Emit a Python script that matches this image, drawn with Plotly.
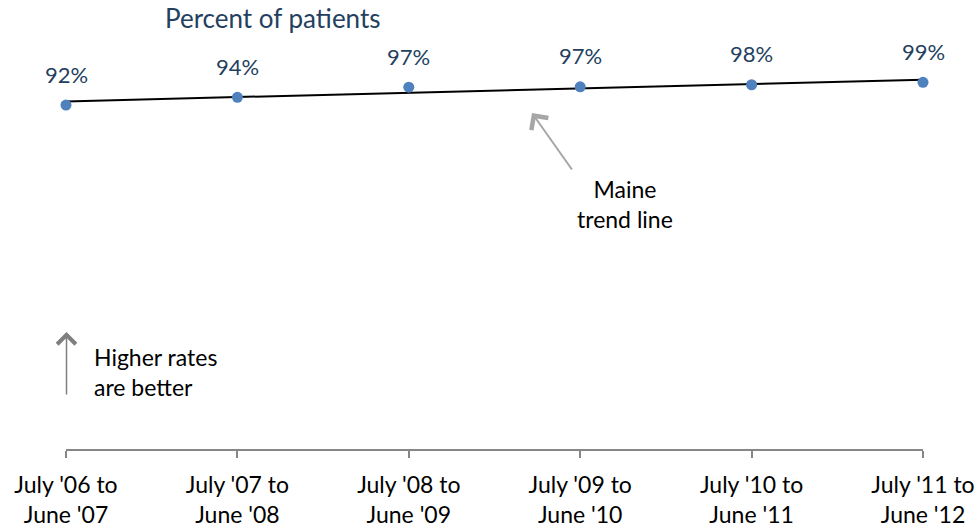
import numpy as np
import plotly.graph_objects as go

# ---- data ----
categories = ["July '06 to<br>June '07", "July '07 to<br>June '08", "July '08 to<br>June '09",
              "July '09 to<br>June '10", "July '10 to<br>June '11", "July '11 to<br>June '12"]
values = [92.1, 94.3, 97.2, 97.3, 97.9, 98.6]
title_text = "Percent of patients"

W, H = 979, 529
ML, MR, MT, MB = 66, 56, 40, 80
x_idx = list(range(len(categories)))

# linear trend line computed from the data
slope, intercept = np.polyfit(x_idx, values, 1)
trend = [slope * i + intercept for i in x_idx]

FONT = "Lato"
DARK_BLUE = "#243F60"

fig = go.Figure()
fig.add_trace(go.Scatter(x=x_idx, y=trend, mode="lines", cliponaxis=False,
                         line=dict(color="black", width=2), hoverinfo="skip"))
fig.add_trace(go.Scatter(x=x_idx, y=values, mode="markers", cliponaxis=False,
                         marker=dict(color="#4F81BD", size=11)))

# data labels
for i, v in zip(x_idx, values):
    fig.add_annotation(x=i, y=v, text=f"{v:.0f}%", showarrow=False, yshift=31,
                       xanchor="center", yanchor="middle",
                       font=dict(family=FONT, size=22, color=DARK_BLUE))

def px(xp):
    return (xp - ML) / (W - ML - MR)

def py(yp):
    return (H - MB - yp) / (H - MT - MB)

# title
fig.add_annotation(xref="paper", yref="paper", x=px(273), y=py(18), text=title_text,
                   xanchor="center", yanchor="middle",
                   showarrow=False, font=dict(family=FONT, size=26, color=DARK_BLUE))

# Maine trend line annotation + arrow
fig.add_annotation(xref="paper", yref="paper", x=px(625), y=py(204),
                   xanchor="center", yanchor="middle",
                   text="Maine<br>trend line", showarrow=False,
                   font=dict(family=FONT, size=23, color="black"))
fig.add_annotation(xref="paper", yref="paper", x=px(532), y=py(113),
                   ax=41, ay=58, axref="pixel", ayref="pixel",
                   text="", showarrow=True, arrowhead=4, arrowsize=2.0, arrowwidth=2,
                   arrowcolor="#A6A6A6")

# Higher rates are better + arrow
fig.add_annotation(xref="paper", yref="paper", x=px(92), y=py(372),
                   xanchor="left", yanchor="middle",
                   text="Higher rates<br>are better", showarrow=False, align="left",
                   font=dict(family=FONT, size=23, color="black"))
fig.add_annotation(xref="paper", yref="paper", x=px(66.5), y=py(332),
                   ax=0, ay=64, axref="pixel", ayref="pixel",
                   text="", showarrow=True, arrowhead=4, arrowsize=2.4, arrowwidth=1.5,
                   arrowcolor="#7F7F7F")

ymin = (427.4 - 449) / 3.5
ymax = (427.4 - 40) / 3.5

fig.update_layout(
    width=W, height=H,
    margin=dict(l=ML, r=MR, t=MT, b=MB, autoexpand=False),
    plot_bgcolor="white", paper_bgcolor="white",
    showlegend=False,
    xaxis=dict(range=[0, len(categories) - 1], tickvals=x_idx, ticktext=categories,
               automargin=False, ticklabelstandoff=8,
               showgrid=False, zeroline=False, showline=True, linecolor="#868686",
               linewidth=1.5, ticks="outside", ticklen=7, tickcolor="#868686", tickwidth=1.5,
               tickfont=dict(family=FONT, size=23, color="black")),
    yaxis=dict(range=[ymin, ymax], visible=False, automargin=False),
)

fig.write_html("out.html", config={"displayModeBar": False},
               post_script="document.body.style.margin='0';")
